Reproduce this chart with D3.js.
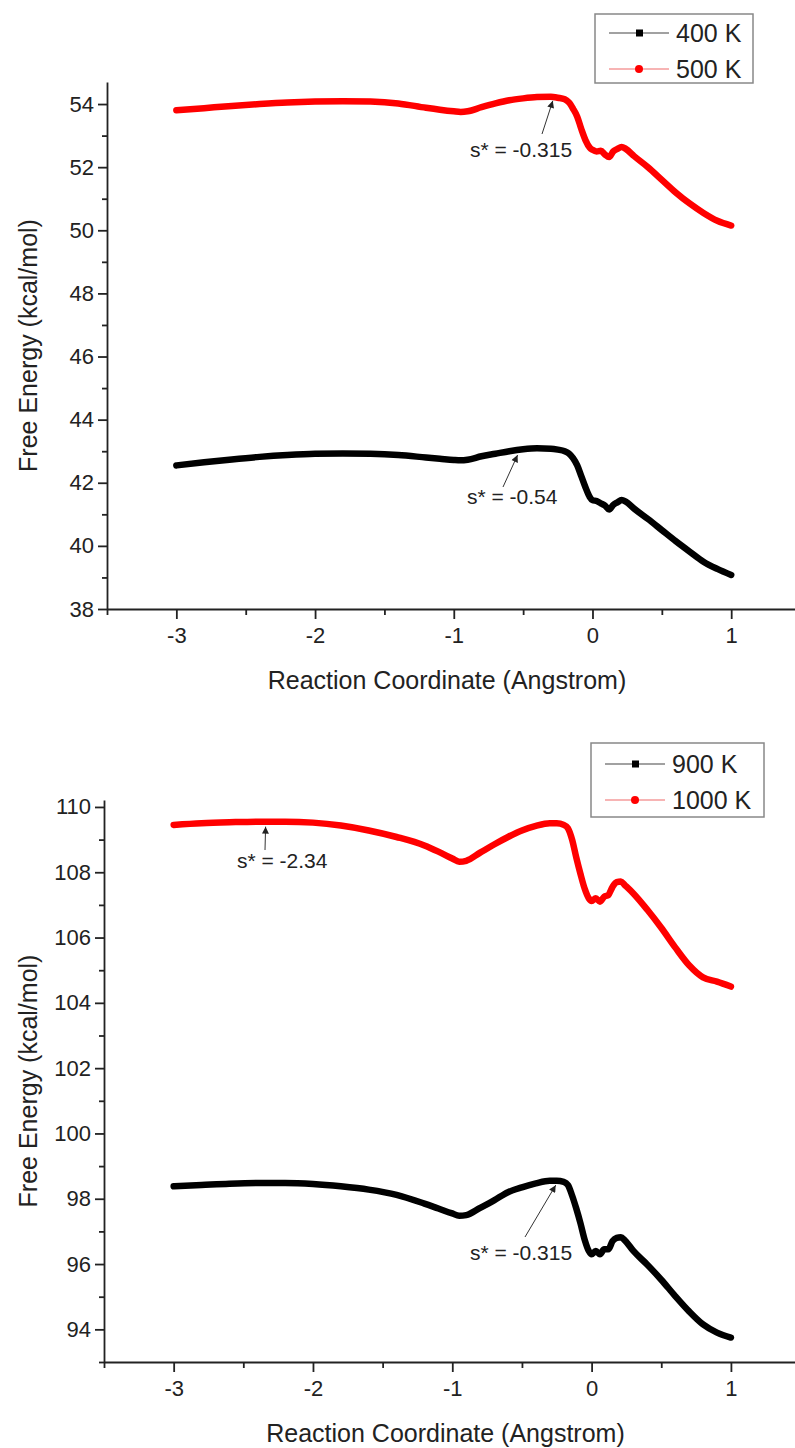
<!DOCTYPE html>
<html>
<head>
<meta charset="utf-8">
<script src="https://cdn.jsdelivr.net/npm/d3@7"></script>
<style>
  body { margin: 0; background: #fff; }
  svg { display: block; font-family: Arial, "Liberation Sans", sans-serif; }
</style>
</head>
<body>
<script>
// Reaction coordinate (Angstrom), shared by all four curves
const coord = [-3, -2.8, -2.6, -2.4, -2.2, -2, -1.8, -1.6, -1.4, -1.2, -1.1, -1.0, -0.95, -0.9, -0.8, -0.7,
  -0.6, -0.5, -0.4, -0.3, -0.25, -0.2, -0.17, -0.14, -0.11, -0.08, -0.05, -0.02, 0, 0.03, 0.06, 0.09,
  0.12, 0.15, 0.18, 0.21, 0.24, 0.3, 0.4, 0.5, 0.6, 0.7, 0.8, 0.9, 1.0];

// Free energy (kcal/mol)
const e400 = [42.55, 42.65, 42.74, 42.82, 42.88, 42.92, 42.93, 42.92, 42.88, 42.80, 42.76, 42.72, 42.71, 42.73, 42.84, 42.92,
  43.00, 43.06, 43.09, 43.08, 43.05, 43.00, 42.93, 42.78, 42.55, 42.20, 41.85, 41.55, 41.45, 41.42, 41.35, 41.28,
  41.15, 41.30, 41.38, 41.45, 41.40, 41.18, 40.85, 40.50, 40.15, 39.82, 39.50, 39.27, 39.08];
const e500 = [53.80, 53.87, 53.94, 54.00, 54.05, 54.08, 54.09, 54.08, 54.02, 53.88, 53.82, 53.77, 53.75, 53.77, 53.90, 54.02,
  54.12, 54.18, 54.22, 54.23, 54.20, 54.15, 54.05, 53.85, 53.60, 53.20, 52.85, 52.62, 52.55, 52.50, 52.52, 52.40,
  52.32, 52.50, 52.58, 52.64, 52.58, 52.35, 52.00, 51.60, 51.20, 50.85, 50.55, 50.30, 50.15];
const e900 = [98.38, 98.42, 98.46, 98.48, 98.48, 98.45, 98.38, 98.28, 98.12, 97.85, 97.70, 97.55, 97.48, 97.50, 97.72, 97.95,
  98.20, 98.35, 98.47, 98.55, 98.55, 98.52, 98.42, 98.10, 97.70, 97.25, 96.75, 96.40, 96.30, 96.40, 96.30, 96.45,
  96.45, 96.70, 96.80, 96.82, 96.72, 96.40, 95.98, 95.52, 95.02, 94.55, 94.15, 93.90, 93.75];
const e1000 = [109.45, 109.50, 109.53, 109.55, 109.55, 109.52, 109.43, 109.28, 109.08, 108.82, 108.63, 108.42, 108.32, 108.35, 108.60, 108.85,
  109.08, 109.28, 109.42, 109.50, 109.50, 109.45, 109.35, 109.00, 108.45, 107.95, 107.50, 107.20, 107.12, 107.20, 107.10, 107.25,
  107.30, 107.55, 107.70, 107.72, 107.60, 107.35, 106.85, 106.30, 105.70, 105.15, 104.78, 104.65, 104.50];

// tick labels
const xTicks = [-3, -2, -1, 0, 1];
const xMinor = [-3.5, -2.5, -1.5, -0.5, 0.5];
const yTicksTop = [38, 40, 42, 44, 46, 48, 50, 52, 54];
const yMinorTop = [39, 41, 43, 45, 47, 49, 51, 53];
const yTicksBot = [94, 96, 98, 100, 102, 104, 106, 108, 110];
const yMinorBot = [93, 95, 97, 99, 101, 103, 105, 107, 109];

const seriesTop = ['400 K', '500 K'];
const seriesBot = ['900 K', '1000 K'];

// transition-state annotations: [s*, label]
const notesTop = [[-0.315, 's* = -0.315'], [-0.54, 's* = -0.54']];
const notesBot = [[-2.34, 's* = -2.34'], [-0.315, 's* = -0.315']];

const W = 795, H = 1448;
const TXT = '#222';
const plain = d => String(d); // keep ASCII hyphen, no trailing .0

const svg = d3.select('body').append('svg')
  .attr('width', W).attr('height', H);

svg.append('defs').append('marker')
  .attr('id', 'arrow')
  .attr('viewBox', '0 0 10 10')
  .attr('refX', 10).attr('refY', 5)
  .attr('markerWidth', 9).attr('markerHeight', 7)
  .attr('markerUnits', 'userSpaceOnUse')
  .attr('orient', 'auto')
  .append('path')
  .attr('d', 'M0,0 L10,5 L0,10 z')
  .attr('fill', '#222');

function panel(cfg) {
  const g = svg.append('g');
  const x = d3.scaleLinear().domain([-3.5, 1.46]).range([cfg.left, W]);
  const y = d3.scaleLinear().domain(cfg.yDomain).range([cfg.bottom, cfg.top]);

  // curves
  const line = d3.line()
    .x((d, i) => x(coord[i]))
    .y(d => y(d))
    .curve(d3.curveMonotoneX);

  cfg.series.forEach((vals, k) => {
    g.append('path')
      .datum(vals)
      .attr('d', line)
      .attr('fill', 'none')
      .attr('stroke', k === 0 ? '#000' : '#f00')
      .attr('stroke-width', 6.5)
      .attr('stroke-linejoin', 'round')
      .attr('stroke-linecap', 'round');
  });

  // x axis
  const xa = g.append('g').attr('transform', `translate(0,${cfg.bottom})`);
  xa.call(d3.axisBottom(x).tickValues(xTicks).tickSize(10).tickSizeOuter(0).tickFormat(plain));
  xa.append('g').call(d3.axisBottom(x).tickValues(xMinor).tickSize(6).tickFormat(''))
    .select('.domain').remove();
  xa.selectAll('path, line').attr('stroke', TXT).attr('stroke-width', 1.8);
  xa.selectAll('text').attr('fill', TXT).attr('font-size', 22).attr('y', 18).attr('dy', '0.71em');

  // y axis
  const ya = g.append('g').attr('transform', `translate(${cfg.left},0)`);
  ya.call(d3.axisLeft(y).tickValues(cfg.yTicks).tickSize(9).tickSizeOuter(0).tickFormat(plain));
  ya.append('g').call(d3.axisLeft(y).tickValues(cfg.yMinor).tickSize(5).tickFormat(''))
    .select('.domain').remove();
  ya.selectAll('path, line').attr('stroke', TXT).attr('stroke-width', 1.8);
  ya.selectAll('text').attr('fill', TXT).attr('font-size', 22).attr('x', -13);

  // axis titles
  g.append('text')
    .attr('x', (cfg.left + W) / 2 - 4)
    .attr('y', cfg.bottom + 80)
    .attr('text-anchor', 'middle')
    .attr('font-size', 25)
    .attr('fill', TXT)
    .text('Reaction Coordinate (Angstrom)');

  g.append('text')
    .attr('transform', `translate(37,${(cfg.top + cfg.bottom) / 2}) rotate(-90)`)
    .attr('text-anchor', 'middle')
    .attr('font-size', 25)
    .attr('fill', TXT)
    .text('Free Energy (kcal/mol)');

  // annotations: arrow points at the curve value at s*
  cfg.notes.forEach((n, i) => {
    const s = n[0];
    const vals = cfg.series[cfg.noteSeries[i]];
    const j = d3.bisectLeft(coord, s);
    const t = (s - coord[j - 1]) / (coord[j] - coord[j - 1]);
    const v = vals[j - 1] + t * (vals[j] - vals[j - 1]);
    const tipX = x(s) + cfg.tipDx[i], tipY = y(v) + cfg.tipDy[i];
    g.append('line')
      .attr('x1', cfg.tail[i][0]).attr('y1', cfg.tail[i][1])
      .attr('x2', tipX).attr('y2', tipY)
      .attr('stroke', '#333').attr('stroke-width', 1)
      .attr('marker-end', 'url(#arrow)');
    g.append('text')
      .attr('x', cfg.textPos[i][0]).attr('y', cfg.textPos[i][1])
      .attr('font-size', 21)
      .attr('fill', TXT)
      .text(n[1]);
  });

  // legend
  const L = cfg.legend;
  const lg = g.append('g');
  lg.append('rect')
    .attr('x', L.x).attr('y', L.y).attr('width', L.w).attr('height', L.h)
    .attr('fill', '#fff').attr('stroke', '#888').attr('stroke-width', 1.5);
  cfg.names.forEach((name, k) => {
    const cy = L.y + L.rows[k];
    lg.append('line')
      .attr('x1', L.x + 14).attr('x2', L.x + 74)
      .attr('y1', cy).attr('y2', cy)
      .attr('stroke', k === 0 ? '#444' : '#f06a6a').attr('stroke-width', 1.2);
    if (k === 0) {
      lg.append('rect').attr('x', L.x + 41).attr('y', cy - 3.5).attr('width', 7).attr('height', 7).attr('fill', '#000');
    } else {
      lg.append('circle').attr('cx', L.x + 44).attr('cy', cy).attr('r', 4).attr('fill', '#f00');
    }
    lg.append('text')
      .attr('x', L.x + 81).attr('y', cy)
      .attr('dy', '0.36em')
      .attr('font-size', 25)
      .attr('fill', TXT)
      .text(name);
  });
}

panel({
  left: 107, top: 82, bottom: 609,
  yDomain: [38, 38 + (609 - 82) / 31.56],
  yTicks: yTicksTop, yMinor: yMinorTop,
  series: [e400, e500], names: seriesTop,
  notes: notesTop, noteSeries: [1, 0],
  tipDx: [4, 0], tipDy: [4, 5],
  tail: [[542, 134], [503, 487]],
  textPos: [[470, 157], [467, 504]],
  legend: { x: 595, y: 14, w: 158, h: 69, rows: [19, 55] }
});

panel({
  left: 104, top: 800, bottom: 1362,
  yDomain: [93, 93 + (1362 - 800) / 32.65],
  yTicks: yTicksBot, yMinor: yMinorBot,
  series: [e900, e1000], names: seriesBot,
  notes: notesBot, noteSeries: [1, 0],
  tipDx: [0, 8], tipDy: [5, 4],
  tail: [[265, 850], [525, 1237]],
  textPos: [[237, 868], [470, 1260]],
  legend: { x: 591, y: 743, w: 173, h: 74, rows: [21, 57] }
});
</script>
</body>
</html>
